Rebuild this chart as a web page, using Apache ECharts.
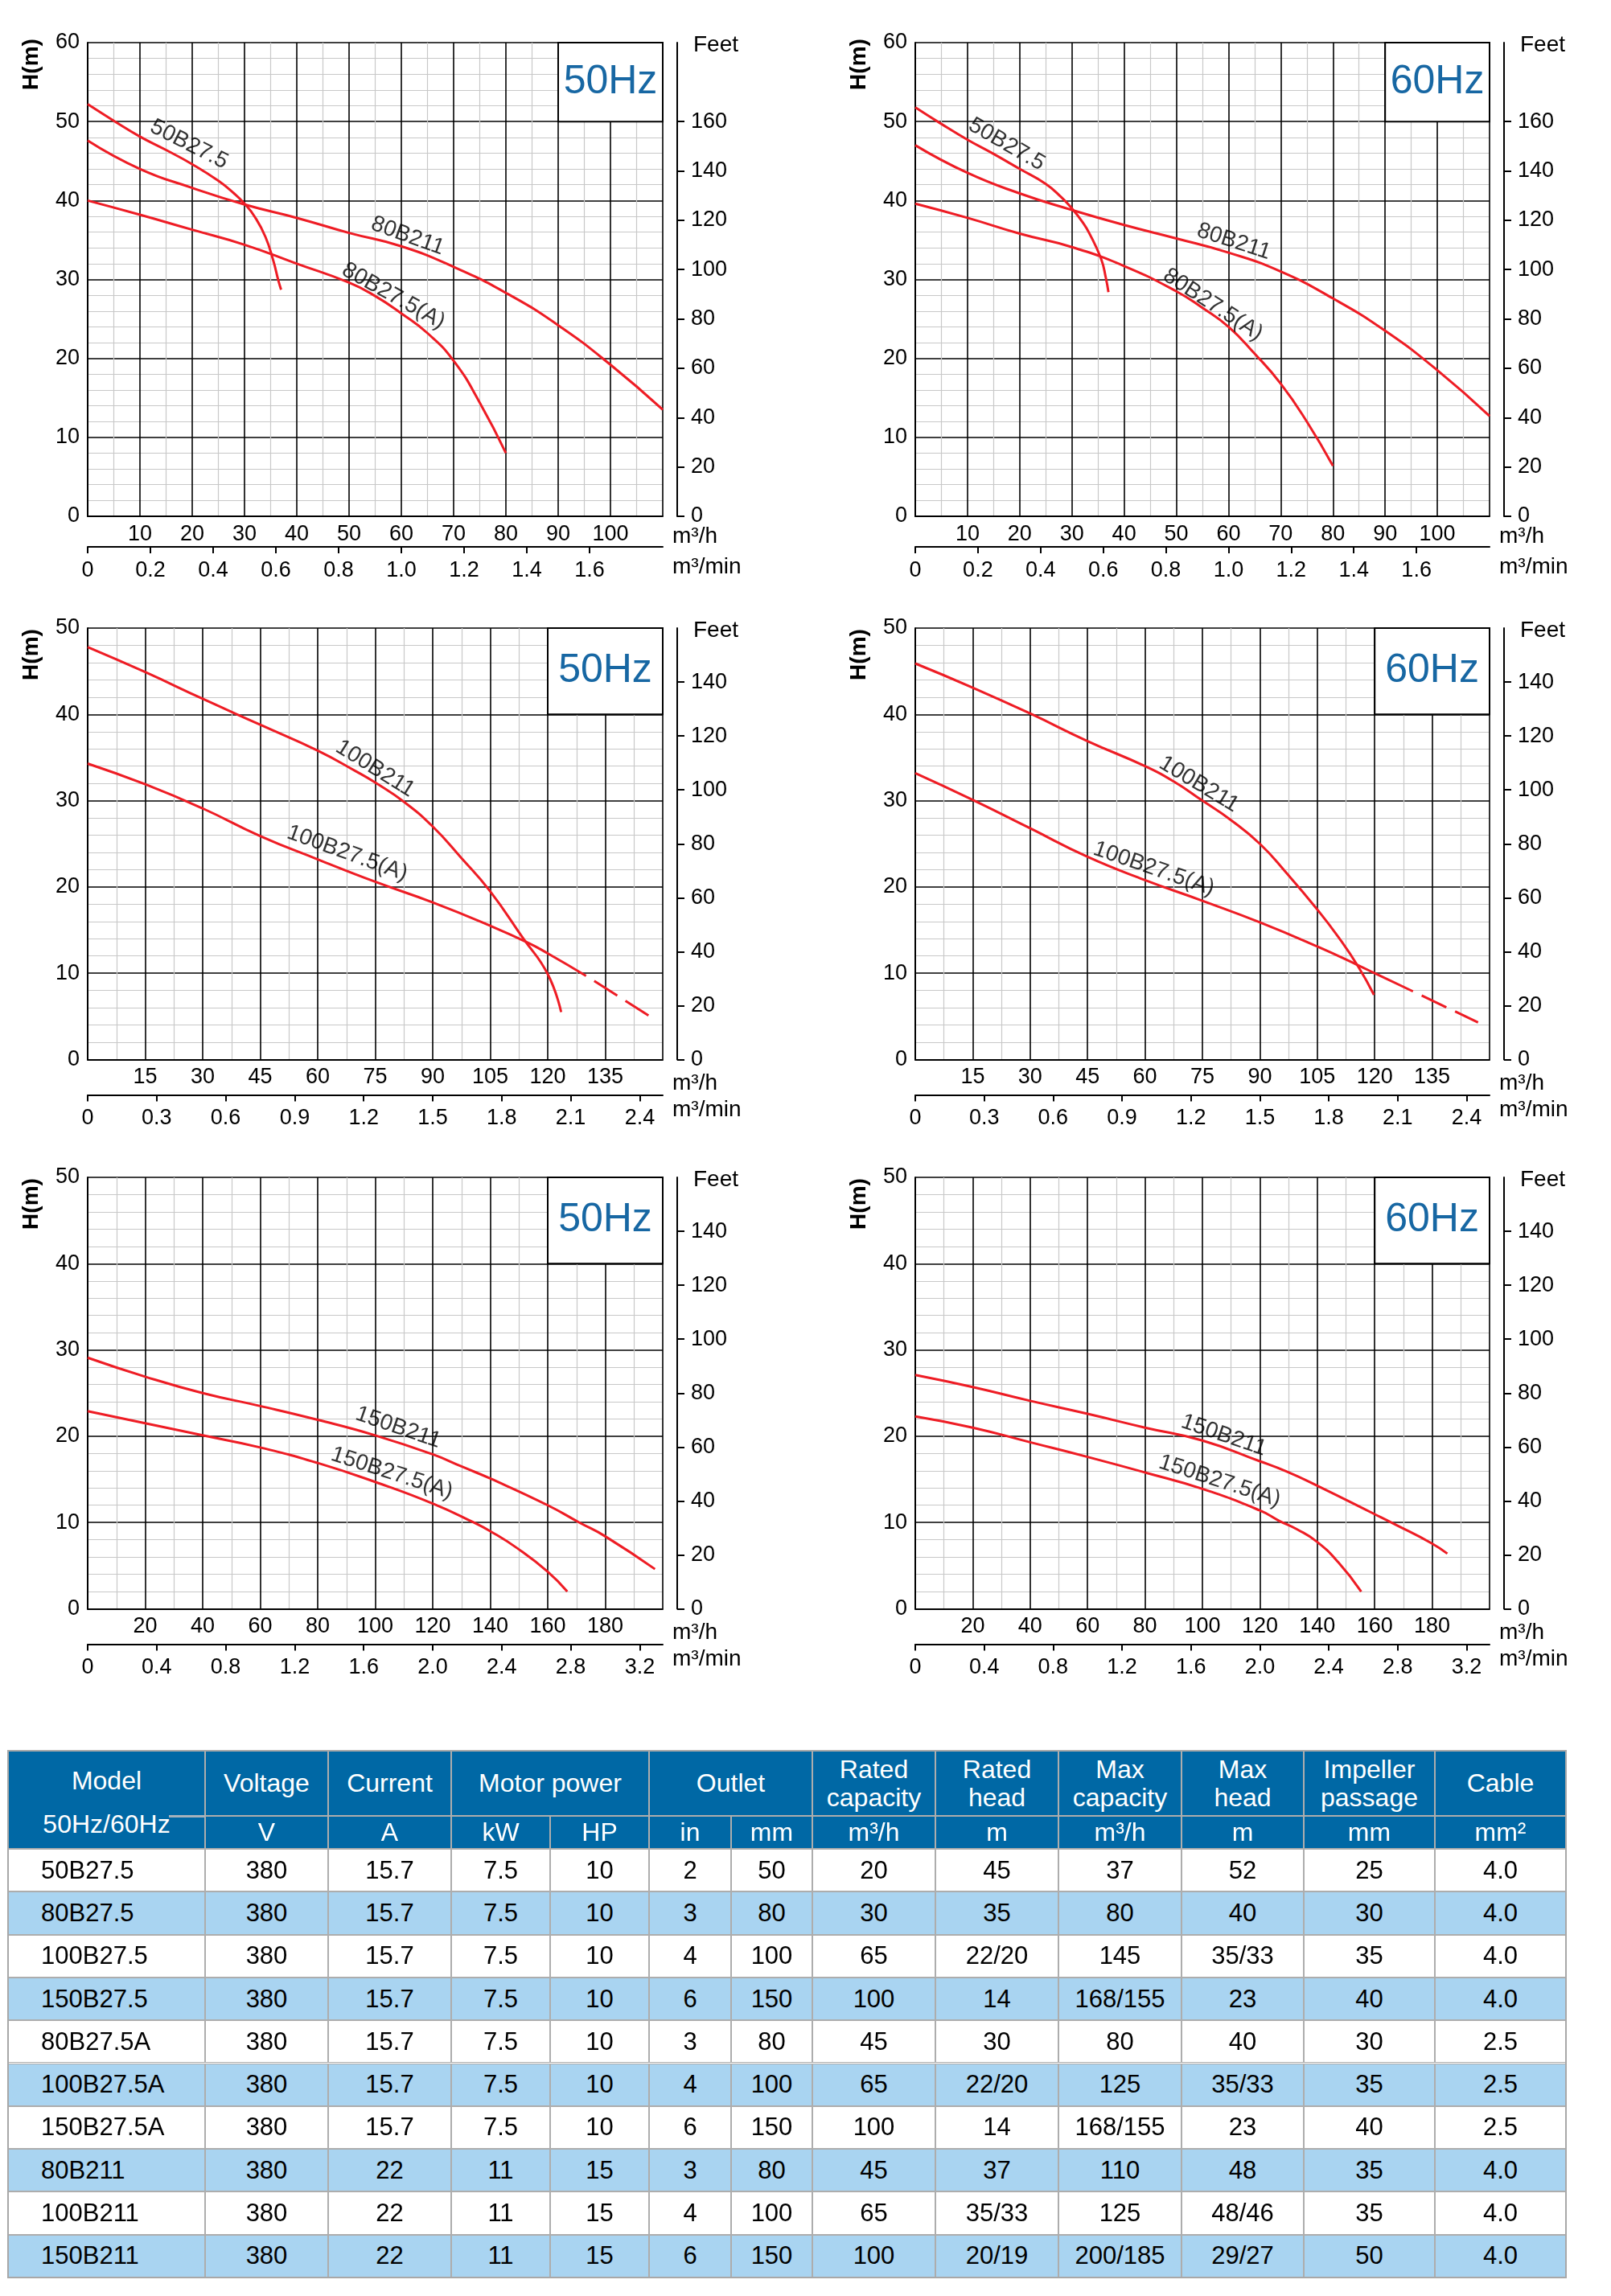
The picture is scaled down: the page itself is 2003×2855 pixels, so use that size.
<!DOCTYPE html>
<html>
<head>
<meta charset="utf-8">
<script src="https://cdn.jsdelivr.net/npm/echarts@6.0.0/dist/echarts.min.js"></script>
<style>
  html, body { margin: 0; padding: 0; background: #fff; }
  #page { position: relative; width: 2003px; height: 2855px; overflow: hidden; }
  #chart { position: absolute; left: 0; top: 0; width: 2003px; height: 2160px; }
  #spec { position: absolute; left: 0; top: 0; width: 2003px; height: 2855px; pointer-events: none;
          font-family: 'Liberation Sans', Arial, Helvetica, sans-serif; color: #000; }
  .cell { position: absolute; box-sizing: border-box; border: 1px solid #adadad;
          display: flex; align-items: center; justify-content: center; text-align: center;
          white-space: nowrap; overflow: hidden; }
  .head { background: #0068a5; color: #fff; font-size: 32px; line-height: 35px; }
  .row { font-size: 31px; }
  .alt { background: #a9d4f1; }
  .model { justify-content: flex-start; padding-left: 40px; }
</style>
</head>
<body>
<div id="page">
  <div id="chart"></div>
  <div id="spec"></div>
</div>
<script>
// 曲线数据 [流量 m³/h, 扬程 m]
// 第一行 50Hz
const r1_50_50B275 = [[0, 52.2], [5, 50.1], [10, 48.1], [15, 46.4], [20, 44.6], [25, 42.5], [28, 40.9], [30, 39.6], [32, 37.9], [34, 35.4], [35.5, 32.4], [36.5, 29.8], [37, 28.7]];
const r1_50_80B211 = [[0, 47.6], [10, 44], [20, 41.6], [30, 39.5], [40, 37.8], [50, 35.9], [60, 34.2], [70, 31.6], [80, 28.3], [90, 24.2], [100, 19.2], [110, 13.5]];
const r1_50_80B275A = [[0, 40], [10, 38.2], [20, 36.3], [30, 34.4], [40, 32], [50, 29.6], [55, 27.9], [60, 25.7], [65, 23.2], [70, 19.7], [75, 14.4], [80, 8]];
// 第一行 60Hz
const r1_60_50B275 = [[0, 51.8], [5, 49.7], [10, 47.7], [15, 45.9], [20, 44], [25, 42.1], [28, 40.4], [30, 39], [32, 37.3], [33.3, 35.9], [35.6, 32.6], [36.5, 30.2], [37, 28.4]];
const r1_60_80B211 = [[0, 47], [10, 43.5], [20, 40.9], [30, 38.8], [40, 36.9], [50, 35.2], [60, 33.4], [70, 31], [80, 27.6], [90, 23.5], [100, 18.5], [110, 12.7]];
const r1_60_80B275A = [[0, 39.6], [10, 37.8], [20, 35.8], [30, 34.1], [40, 31.7], [50, 28.5], [55, 26.4], [60, 24], [65, 20.6], [70, 16.8], [75, 12], [80, 6.4]];
// 第二行 50Hz
const r2_50_100B211 = [[0, 47.8], [15, 44.9], [30, 41.8], [45, 38.8], [60, 35.8], [70, 33.4], [75, 32.1], [82.7, 29.8], [90, 27], [97.4, 23.4], [104.8, 19.6], [113.5, 14.1], [120, 9.9], [123.5, 5.5]];
const r2_50_100B275A = [[0, 34.3], [15, 31.9], [30, 29.1], [45, 25.9], [60, 23.2], [75, 20.6], [90, 18.2], [105, 15.5], [115, 13.5], [120, 12.3], [130, 9.7]];
const r2_50_100B275A_ext = [[130, 9.7], [147, 4.9]];
// 第二行 60Hz
const r2_60_100B211 = [[0, 45.9], [15, 43.1], [30, 40.1], [45, 36.9], [60, 34], [67.6, 32.2], [75, 30], [82.3, 27.8], [90, 25], [97, 21.6], [104.8, 17.5], [110.5, 14.2], [115.8, 10.7], [119.8, 7.5]];
const r2_60_100B275A = [[0, 33.2], [15, 30.1], [30, 26.8], [45, 23.5], [60, 20.8], [75, 18.4], [90, 15.9], [105, 13.1], [115.8, 10.9], [120, 10], [130, 7.9]];
const r2_60_100B275A_ext = [[130, 7.9], [147, 4.3]];
// 第三行 50Hz
const r3_50_150B211 = [[0, 29.1], [20, 26.9], [40, 25], [60, 23.5], [80, 21.9], [100, 20.1], [120, 17.9], [130, 16.5], [140, 15.1], [160, 12], [171, 10], [180, 8.4], [197.3, 4.6]];
const r3_50_150B275A = [[0, 22.9], [20, 21.5], [40, 20.1], [60, 18.7], [80, 16.9], [100, 14.7], [120, 12.2], [134.3, 10], [140, 9], [149.5, 7], [160, 4.3], [166.8, 2]];
// 第三行 60Hz
const r3_60_150B211 = [[0, 27.1], [20, 25.7], [40, 24.1], [60, 22.6], [80, 21], [100, 19.5], [120, 17.1], [129.4, 15.9], [139.8, 14.3], [159.8, 11], [167, 9.8], [179.8, 7.6], [185.3, 6.4]];
const r3_60_150B275A = [[0, 22.3], [20, 21], [40, 19.3], [60, 17.6], [80, 15.8], [100, 13.9], [120, 11.4], [126.7, 10.2], [133, 9.2], [139.8, 7.8], [147.3, 5.4], [155.3, 2]];

// 刻度标签
const qLabels1 = [10, 20, 30, 40, 50, 60, 70, 80, 90, 100];
const minLabels1 = [0, 0.2, 0.4, 0.6, 0.8, 1.0, 1.2, 1.4, 1.6];
const feetLabels1 = [0, 20, 40, 60, 80, 100, 120, 140, 160];
const qLabels2 = [15, 30, 45, 60, 75, 90, 105, 120, 135];
const minLabels2 = [0, 0.3, 0.6, 0.9, 1.2, 1.5, 1.8, 2.1, 2.4];
const feetLabels2 = [0, 20, 40, 60, 80, 100, 120, 140];
const qLabels3 = [20, 40, 60, 80, 100, 120, 140, 160, 180];
const minLabels3 = [0, 0.4, 0.8, 1.2, 1.6, 2.0, 2.4, 2.8, 3.2];
const feetLabels3 = [0, 20, 40, 60, 80, 100, 120, 140];

// 曲线型号标注 [文字, 流量, 扬程, 角度]
const notes_r1_50 = [['50B27.5', 19.4, 47.1, -27], ['80B211', 61.2, 35.5, -20], ['80B27.5(A)', 58.5, 27.9, -29]];
const notes_r1_60 = [['50B27.5', 17.5, 47.1, -30], ['80B211', 61, 34.8, -18], ['80B27.5(A)', 57, 26.8, -33]];
const notes_r2_50 = [['100B211', 75, 33.7, -32], ['100B27.5(A)', 67.7, 23.9, -20]];
const notes_r2_60 = [['100B211', 74.1, 31.9, -31], ['100B27.5(A)', 62.3, 22.1, -19]];
const notes_r3_50 = [['150B211', 108, 21, -19], ['150B27.5(A)', 105.8, 15.7, -18]];
const notes_r3_60 = [['150B211', 107.4, 20.1, -19], ['150B27.5(A)', 106, 14.8, -18]];

// 参数表
const models = ['50B27.5', '80B27.5', '100B27.5', '150B27.5', '80B27.5A', '100B27.5A', '150B27.5A', '80B211', '100B211', '150B211'];
const voltage = ['380', '380', '380', '380', '380', '380', '380', '380', '380', '380'];
const current = ['15.7', '15.7', '15.7', '15.7', '15.7', '15.7', '15.7', '22', '22', '22'];
const powerKW = ['7.5', '7.5', '7.5', '7.5', '7.5', '7.5', '7.5', '11', '11', '11'];
const powerHP = ['10', '10', '10', '10', '10', '10', '10', '15', '15', '15'];
const outletIn = ['2', '3', '4', '6', '3', '4', '6', '3', '4', '6'];
const outletMM = ['50', '80', '100', '150', '80', '100', '150', '80', '100', '150'];
const ratedCap = ['20', '30', '65', '100', '45', '65', '100', '45', '65', '100'];
const ratedHead = ['45', '35', '22/20', '14', '30', '22/20', '14', '37', '35/33', '20/19'];
const maxCap = ['37', '80', '145', '168/155', '80', '125', '168/155', '110', '125', '200/185'];
const maxHead = ['52', '40', '35/33', '23', '40', '35/33', '23', '48', '48/46', '29/27'];
const impeller = ['25', '30', '35', '40', '30', '35', '40', '35', '35', '50'];
const cable = ['4.0', '4.0', '4.0', '4.0', '2.5', '2.5', '2.5', '4.0', '4.0', '4.0'];
const headTop = [['Voltage', 1], ['Current', 1], ['Motor power', 2], ['Outlet', 2], ['Rated<br>capacity', 1], ['Rated<br>head', 1],
  ['Max<br>capacity', 1], ['Max<br>head', 1], ['Impeller<br>passage', 1], ['Cable', 1]];
const headUnits = ['V', 'A', 'kW', 'HP', 'in', 'mm', 'm³/h', 'm', 'm³/h', 'm', 'mm', 'mm²'];

const FONT = "'Liberation Sans', Arial, Helvetica, sans-serif";
const RED = '#ee1c24';
const BLUE = '#1767a3';

const charts = [
  { rect: [109, 53, 715, 589], hz: '50Hz', qMax: 110, qStep: 10, qMinor: 2, hMax: 60, feetMax: 192, box: [90, 50],
    qLabels: qLabels1, minLabels: minLabels1, feetLabels: feetLabels1, minOffset: 38, hGap: 27, unitGap: 25,
    curves: [r1_50_50B275, r1_50_80B211, r1_50_80B275A], dashed: [], notes: notes_r1_50 },
  { rect: [1138, 53, 714, 589], hz: '60Hz', qMax: 110, qStep: 10, qMinor: 2, hMax: 60, feetMax: 192, box: [90, 50],
    qLabels: qLabels1, minLabels: minLabels1, feetLabels: feetLabels1, minOffset: 38, hGap: 27, unitGap: 25,
    curves: [r1_60_50B275, r1_60_80B211, r1_60_80B275A], dashed: [], notes: notes_r1_60 },
  { rect: [109, 781, 715, 536.5], hz: '50Hz', qMax: 150, qStep: 15, qMinor: 2, hMax: 50, feetMax: 160, box: [120, 40],
    qLabels: qLabels2, minLabels: minLabels2, feetLabels: feetLabels2, minOffset: 44, hGap: 33, unitGap: 30,
    curves: [r2_50_100B211, r2_50_100B275A], dashed: [r2_50_100B275A_ext], notes: notes_r2_50 },
  { rect: [1138, 781, 714, 536.5], hz: '60Hz', qMax: 150, qStep: 15, qMinor: 2, hMax: 50, feetMax: 160, box: [120, 40],
    qLabels: qLabels2, minLabels: minLabels2, feetLabels: feetLabels2, minOffset: 44, hGap: 33, unitGap: 30,
    curves: [r2_60_100B211, r2_60_100B275A], dashed: [r2_60_100B275A_ext], notes: notes_r2_60 },
  { rect: [109, 1464, 715, 536.5], hz: '50Hz', qMax: 200, qStep: 20, qMinor: 2, hMax: 50, feetMax: 160, box: [160, 40],
    qLabels: qLabels3, minLabels: minLabels3, feetLabels: feetLabels3, minOffset: 44, hGap: 33, unitGap: 30,
    curves: [r3_50_150B211, r3_50_150B275A], dashed: [], notes: notes_r3_50 },
  { rect: [1138, 1464, 714, 536.5], hz: '60Hz', qMax: 200, qStep: 20, qMinor: 2, hMax: 50, feetMax: 160, box: [160, 40],
    qLabels: qLabels3, minLabels: minLabels3, feetLabels: feetLabels3, minOffset: 44, hGap: 33, unitGap: 30,
    curves: [r3_60_150B211, r3_60_150B275A], dashed: [], notes: notes_r3_60 }
];

const labelStyle = { color: '#000', fontSize: 27, fontFamily: FONT };
const majorLine = { show: true, lineStyle: { color: '#000', width: 1.6 } };
const minorLine = { show: true, lineStyle: { color: '#c8c8c8', width: 1.2 } };

const grid = [], xAxis = [], yAxis = [], series = [], graphic = [];

charts.forEach((c, i) => {
  const [left, top, width, height] = c.rect;
  grid.push({ left, top, width, height, containLabel: false, outerBoundsMode: 'none' });

  // m³/h 主轴
  xAxis.push({
    gridIndex: i, type: 'value', min: 0, max: c.qMax, interval: c.qStep, position: 'bottom',
    axisLine: { show: true, onZero: false, lineStyle: { color: '#000', width: 2 } },
    axisTick: { show: false },
    axisLabel: Object.assign({ margin: 9, customValues: c.qLabels,
      formatter: v => (c.qLabels.indexOf(v) >= 0 ? String(v) : '') }, labelStyle),
    splitLine: majorLine,
    minorTick: { show: false, splitNumber: c.qMinor },
    minorSplitLine: minorLine
  });
  // m³/min 副轴
  xAxis.push({
    gridIndex: i, type: 'value', min: 0, max: c.qMax / 60, position: 'bottom', offset: c.minOffset,
    axisLine: { show: true, onZero: false, lineStyle: { color: '#000', width: 2 } },
    axisTick: { show: true, length: 8, customValues: c.minLabels, lineStyle: { color: '#000', width: 2 } },
    axisLabel: Object.assign({ margin: 16, customValues: c.minLabels,
      formatter: v => (v === 0 ? '0' : v.toFixed(1)) }, labelStyle),
    splitLine: { show: false }
  });
  // H(m)
  yAxis.push({
    gridIndex: i, type: 'value', min: 0, max: c.hMax, interval: 10, position: 'left',
    axisLine: { show: true, onZero: false, lineStyle: { color: '#000', width: 2 } },
    axisTick: { show: false },
    axisLabel: Object.assign({ margin: 10 }, labelStyle),
    splitLine: majorLine,
    minorTick: { show: false, splitNumber: 5 },
    minorSplitLine: minorLine
  });
  // Feet
  yAxis.push({
    gridIndex: i, type: 'value', min: 0, max: c.feetMax, position: 'right', offset: 18,
    axisLine: { show: true, onZero: false, lineStyle: { color: '#000', width: 2 } },
    axisTick: { show: true, length: 9, customValues: c.feetLabels, lineStyle: { color: '#000', width: 2 } },
    axisLabel: Object.assign({ margin: 17, customValues: c.feetLabels }, labelStyle),
    splitLine: { show: false }
  });

  c.curves.forEach((data, k) => {
    const s = {
      type: 'line', xAxisIndex: 2 * i, yAxisIndex: 2 * i, data,
      smooth: 0.5, symbol: 'none', showSymbol: false, silent: true,
      lineStyle: { color: RED, width: 3 }, z: 5, emphasis: { disabled: true }
    };
    if (k === 0) {
      s.markArea = {
        silent: true,
        itemStyle: { color: '#fff', borderColor: '#000', borderWidth: 2 },
        label: { show: true, position: 'inside', formatter: c.hz, color: BLUE, fontSize: 50, fontFamily: FONT },
        data: [[{ coord: c.box }, { coord: [c.qMax, c.hMax] }]]
      };
    }
    series.push(s);
  });
  c.dashed.forEach(data => {
    series.push({
      type: 'line', xAxisIndex: 2 * i, yAxisIndex: 2 * i, data,
      symbol: 'none', showSymbol: false, silent: true, z: 5,
      lineStyle: { color: RED, width: 3, type: [34, 12], dashOffset: 34 }, emphasis: { disabled: true }
    });
  });
  series.push({
    type: 'scatter', xAxisIndex: 2 * i, yAxisIndex: 2 * i, symbolSize: 0, silent: true, z: 6,
    data: c.notes.map(n => ({ value: [n[1], n[2]], name: n[0], label: { rotate: n[3] } })),
    label: { show: true, position: 'inside', formatter: '{b}', color: '#000', fontSize: 28, fontFamily: FONT,
      textBorderWidth: 0 },
    emphasis: { disabled: true }
  });

  // 坐标轴名称
  const right = left + width, bottom = top + height;
  const txt = (x, y, text, font, align, rot) => ({
    type: 'text', x, y, rotation: rot || 0, silent: true, z: 10,
    style: { text, font, fill: '#000', align, verticalAlign: 'middle', textAlign: align, textVerticalAlign: 'middle' }
  });
  graphic.push(txt(left - 70, top + c.hGap, 'H(m)', 'bold 28px ' + FONT, 'center', Math.PI / 2));
  graphic.push(txt(right + 38, top + 3, 'Feet', '28px ' + FONT, 'left'));
  graphic.push(txt(right + 12, bottom + c.unitGap, 'm³/h', '28px ' + FONT, 'left'));
  graphic.push(txt(right + 12, bottom + 63, 'm³/min', '28px ' + FONT, 'left'));
});

const chart = echarts.init(document.getElementById('chart'), null, { renderer: 'canvas' });
chart.setOption({ animation: false, grid, xAxis, yAxis, series, graphic });

// 参数表（HTML）
const spec = document.getElementById('spec');
const colX = [10, 255, 408, 561, 684, 807, 909, 1010, 1163, 1316, 1469, 1621, 1784, 1947];
const rowY = [2177, 2258, 2299];
for (let k = 1; k <= models.length; k++) rowY.push(2299 + 53.3 * k);

function cell(x0, x1, y0, y1, html, cls) {
  const d = document.createElement('div');
  d.className = 'cell ' + cls;
  d.style.left = x0 + 'px';
  d.style.top = y0 + 'px';
  d.style.width = (x1 - x0) + 'px';
  d.style.height = (y1 - y0) + 'px';
  d.innerHTML = html;
  spec.appendChild(d);
  return d;
}

const modelHead = cell(colX[0], colX[1], rowY[0], rowY[2],
  '<div><div style="line-height:40px;margin-top:16px">Model</div>' +
  '<div style="line-height:40px;margin-top:14px">50Hz/60Hz</div></div>', 'head');
modelHead.style.alignItems = 'flex-start';
const quirk = document.createElement('div');
quirk.style.cssText = 'position:absolute;left:210px;top:2257px;width:45px;height:3px;background:#a6b2bc;';
spec.appendChild(quirk);

let c0 = 1;
headTop.forEach(([t, span]) => {
  cell(colX[c0], colX[c0 + span], rowY[0], rowY[1], t, 'head');
  c0 += span;
});
headUnits.forEach((u, k) => cell(colX[k + 1], colX[k + 2], rowY[1], rowY[2], u, 'head'));

const columns = [models, voltage, current, powerKW, powerHP, outletIn, outletMM, ratedCap, ratedHead, maxCap, maxHead, impeller, cable];
models.forEach((m, r) => {
  const alt = r % 2 === 1 ? ' alt' : '';
  columns.forEach((col, k) => {
    cell(colX[k], colX[k + 1], rowY[r + 2], rowY[r + 3], col[r], 'row' + alt + (k === 0 ? ' model' : ''));
  });
});
const frame = document.createElement('div');
frame.style.cssText = 'position:absolute;box-sizing:border-box;border:2px solid #a8a8a8;left:' + (colX[0] - 1) + 'px;top:' +
  (rowY[0] - 1) + 'px;width:' + (colX[13] - colX[0] + 2) + 'px;height:' + (rowY[rowY.length - 1] - rowY[0] + 2) + 'px;';
spec.appendChild(frame);
</script>
</body>
</html>
